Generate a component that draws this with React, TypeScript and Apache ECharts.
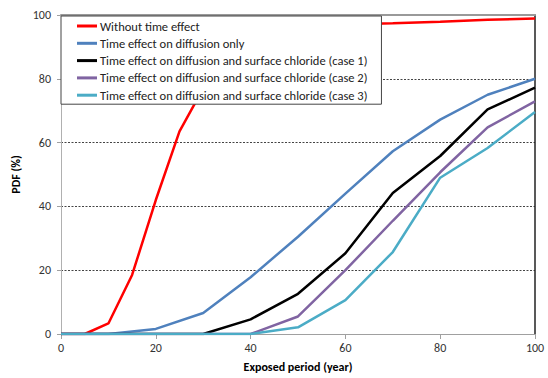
import React, { useEffect, useRef } from "react";
import * as echarts from "echarts";

const years = [0, 10, 20, 30, 40, 50, 60, 70, 80, 90, 100];
const redYears = [0, 5, 10, 15, 20, 25, 30, 40, 50, 60, 70, 80, 90, 100];
const noTimeEffect = [0, 0, 3.3, 18.5, 42, 63.5, 77, 91, 95.5, 97, 97.4, 97.9, 98.5, 98.9];
const diffusionOnly = [0, 0, 1.6, 6.6, 17.8, 30.5, 44, 57.3, 67.2, 75, 80];
const case1 = [0, 0, 0, 0, 4.6, 12.6, 25.3, 44.2, 55.8, 70.4, 77.2];
const case2 = [0, 0, 0, 0, 0, 5.5, 20, 35.5, 50.7, 64.8, 72.9];
const case3 = [0, 0, 0, 0, 0, 2.1, 10.6, 25.7, 49, 58.3, 69.6];

const seriesNames = [
  "Without time effect",
  "Time effect on diffusion only",
  "Time effect on diffusion and surface chloride (case 1)",
  "Time effect on diffusion and surface chloride (case 2)",
  "Time effect on diffusion and surface chloride (case 3)",
];
const colors = ["#FF0000", "#4F81BD", "#000000", "#8064A2", "#4BACC6"];

const FONT = "Carlito, 'Liberation Sans', sans-serif";

export default function App() {
  const ref = useRef<HTMLDivElement>(null);
  useEffect(() => {
    if (!ref.current) return;
    const chart = echarts.init(ref.current, undefined, { renderer: "svg" });
    const pairs = (xs: number[], ys: number[]) => xs.map((x, i) => [x, ys[i]]);
    const allData = [
      pairs(redYears, noTimeEffect),
      pairs(years, diffusionOnly),
      pairs(years, case1),
      pairs(years, case2),
      pairs(years, case3),
    ];
    chart.setOption({
      animation: false,
      color: colors,
      grid: { left: 61, right: 13, top: 15, bottom: 43 },
      legend: {
        orient: "vertical",
        left: 61,
        top: 16,
        data: seriesNames,
        icon: "rect",
        itemWidth: 20,
        itemHeight: 3,
        itemGap: 3.3,
        padding: [3, 14, 2, 16],
        backgroundColor: "#fff",
        borderColor: "#444",
        borderWidth: 1,
        textStyle: { fontFamily: FONT, fontSize: 12.5, color: "#222", lineHeight: 14, padding: [0, 0, 0, -2] },
        z: 10,
      },
      xAxis: [
        {
          type: "value",
          min: 0,
          max: 100,
          interval: 20,
          name: "Exposed period (year)",
          nameLocation: "middle",
          nameGap: 27,
          nameTextStyle: { fontFamily: FONT, fontSize: 12, fontWeight: "bold", color: "#000" },
          axisLine: { show: true, lineStyle: { color: "#a0a0a0", width: 1 } },
          axisTick: { show: true, length: 5, lineStyle: { color: "#a0a0a0" } },
          axisLabel: { fontFamily: FONT, fontSize: 12, color: "#333", margin: 8 },
          splitLine: { show: false },
        },
        {
          type: "value",
          position: "top",
          min: 0,
          max: 100,
          axisLine: { show: true, onZero: false, lineStyle: { color: "#999", width: 2 } },
          axisTick: { show: false },
          axisLabel: { show: false },
          splitLine: { show: false },
        },
      ],
      yAxis: [
        {
          type: "value",
          min: 0,
          max: 100,
          interval: 20,
          name: "PDF (%)",
          nameLocation: "middle",
          nameGap: 30,
          nameTextStyle: { fontFamily: FONT, fontSize: 12, fontWeight: "bold", color: "#000" },
          axisLine: { show: true, lineStyle: { color: "#b0b0b0", width: 1 } },
          axisTick: { show: true, length: 4, lineStyle: { color: "#a0a0a0" } },
          axisLabel: { fontFamily: FONT, fontSize: 12, color: "#333", margin: 10 },
          splitLine: {
            show: true,
            showMinLine: false,
            showMaxLine: false,
            lineStyle: { color: "#444", type: [2, 1.5], width: 1 },
          },
        },
        {
          type: "value",
          position: "right",
          min: 0,
          max: 100,
          axisLine: { show: true, onZero: false, lineStyle: { color: "#222", width: 1.5 } },
          axisTick: { show: false },
          axisLabel: { show: false },
          splitLine: { show: false },
        },
      ],
      series: allData.map((d, i) => ({
        type: "line",
        name: seriesNames[i],
        data: d,
        showSymbol: false,
        symbol: "none",
        lineStyle: { width: 2.5, color: colors[i] },
        itemStyle: { color: colors[i] },
      })),
    });
    return () => chart.dispose();
  }, []);
  return <div ref={ref} style={{ width: 548, height: 378, position: "absolute", left: 0, top: 0 }} />;
}
